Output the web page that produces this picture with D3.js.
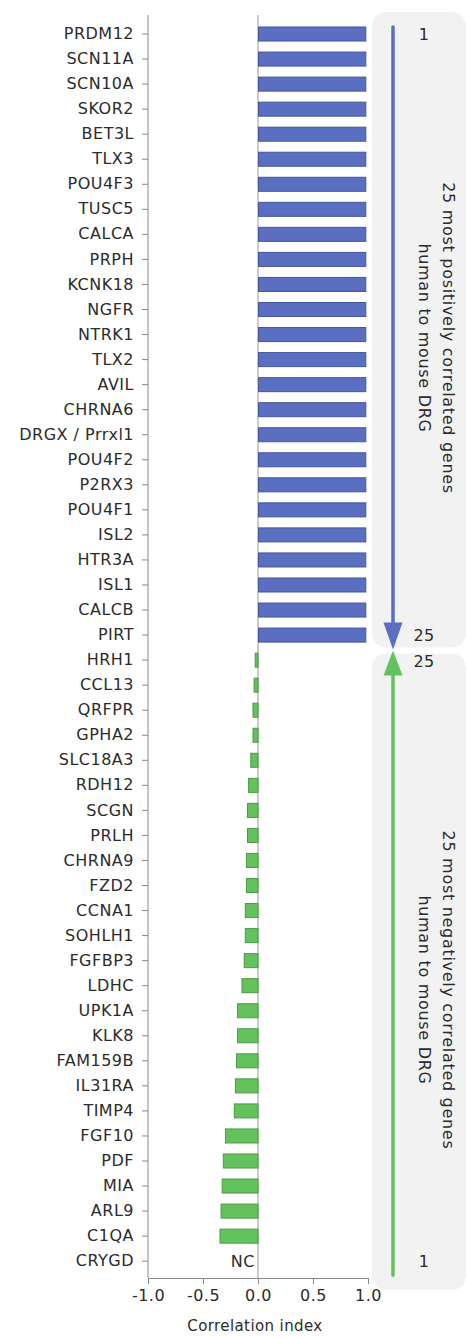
<!DOCTYPE html>
<html>
<head>
<meta charset="utf-8">
<script src="https://cdn.jsdelivr.net/npm/d3@7"></script>
<style>
  html, body { margin: 0; padding: 0; background: #fff; }
  svg { display: block; font-family: "DejaVu Sans", Verdana, sans-serif; }
</style>
</head>
<body>
<svg id="chart" width="466" height="1337"></svg>
<script>
const posGenes = ["PRDM12","SCN11A","SCN10A","SKOR2","BET3L","TLX3","POU4F3","TUSC5","CALCA","PRPH","KCNK18","NGFR","NTRK1","TLX2","AVIL","CHRNA6","DRGX / Prrxl1","POU4F2","P2RX3","POU4F1","ISL2","HTR3A","ISL1","CALCB","PIRT"];
const posValues = [0.98,0.98,0.98,0.98,0.98,0.98,0.98,0.98,0.98,0.98,0.98,0.98,0.98,0.98,0.98,0.98,0.98,0.98,0.98,0.98,0.98,0.98,0.98,0.98,0.98];
const negGenes = ["HRH1","CCL13","QRFPR","GPHA2","SLC18A3","RDH12","SCGN","PRLH","CHRNA9","FZD2","CCNA1","SOHLH1","FGFBP3","LDHC","UPK1A","KLK8","FAM159B","IL31RA","TIMP4","FGF10","PDF","MIA","ARL9","C1QA","CRYGD"];
const negValues = [-0.03,-0.04,-0.05,-0.05,-0.07,-0.09,-0.10,-0.10,-0.11,-0.11,-0.12,-0.12,-0.13,-0.15,-0.19,-0.19,-0.20,-0.21,-0.22,-0.30,-0.32,-0.33,-0.34,-0.35,null];
const xTicks = [-1.0,-0.5,0.0,0.5,1.0];
const posRankLabels = ["1","25"];
const negRankLabels = ["25","1"];
const posTitle = ["25 most positively correlated genes","human to mouse DRG"];
const negTitle = ["25 most negatively correlated genes","human to mouse DRG"];
const xTitle = "Correlation index";

const rows = posGenes.map((g,i)=>({gene:g, value:posValues[i], group:"pos"}))
  .concat(negGenes.map((g,i)=>({gene:g, value:negValues[i], group:"neg"})));

const svg = d3.select("#chart");
const fill = {pos:"#5a6fc0", neg:"#64c25c"};
const stroke = {pos:"#44569e", neg:"#4b9a45"};
const txt = "#2b2b2b";

const x = d3.scaleLinear().domain([-1,1]).range([148,368]);
const y = d3.scaleBand().domain(rows.map(d=>d.gene)).range([21.5,1273.7]).paddingInner(0.44).paddingOuter(0.22);
const plotTop = 15, plotBottom = 1278;

// right panels
const posFirst = y(posGenes[0]) + y.bandwidth()/2;
const posLast = y(posGenes[posGenes.length-1]) + y.bandwidth()/2;
const negFirst = y(negGenes[0]) + y.bandwidth()/2;
const negLast = y(negGenes[negGenes.length-1]) + y.bandwidth()/2;
const mid = (posLast + negFirst)/2 + 2;

svg.append("rect").attr("x",372).attr("y",12).attr("width",94).attr("height",mid-14).attr("rx",14).attr("fill","#f2f2f2");
svg.append("rect").attr("x",372).attr("y",mid+4).attr("width",94).attr("height",1290-(mid+4)).attr("rx",14).attr("fill","#f2f2f2");

const ax = 393;
svg.append("line").attr("x1",ax).attr("x2",ax).attr("y1",posFirst-7).attr("y2",mid-26).attr("stroke",fill.pos).attr("stroke-width",3.5).attr("stroke-linecap","round");
svg.append("path").attr("d",`M${ax-9.5},${mid-27} L${ax+9.5},${mid-27} L${ax},${mid} Z`).attr("fill",fill.pos);
svg.append("line").attr("x1",ax).attr("x2",ax).attr("y1",mid+26).attr("y2",negLast+14).attr("stroke",fill.neg).attr("stroke-width",3.5).attr("stroke-linecap","round");
svg.append("path").attr("d",`M${ax-9.5},${mid+26} L${ax+9.5},${mid+26} L${ax},${mid+1} Z`).attr("fill",fill.neg);

const rankStyle = s => s.attr("x",424).attr("text-anchor","middle").attr("dominant-baseline","central").attr("font-size",16).attr("letter-spacing",0.3).attr("fill",txt);
svg.append("text").call(rankStyle).attr("y",posFirst).text(posRankLabels[0]);
svg.append("text").call(rankStyle).attr("y",posLast).text(posRankLabels[1]);
svg.append("text").call(rankStyle).attr("y",negFirst+1).text(negRankLabels[0]);
svg.append("text").call(rankStyle).attr("y",negLast).text(negRankLabels[1]);

function vtitle(lines, cy){
  const g = svg.append("g").attr("transform",`translate(437,${cy}) rotate(90)`);
  g.selectAll("text").data(lines).join("text")
    .attr("x",0).attr("y",(d,i)=> i===0 ? -11 : 13)
    .attr("text-anchor","middle").attr("dominant-baseline","central")
    .attr("font-size",16).attr("letter-spacing",0.7).attr("fill",txt).text(d=>d);
}
vtitle(posTitle, 338);
vtitle(negTitle, 990);

// zero line
svg.append("line").attr("x1",x(0)).attr("x2",x(0)).attr("y1",plotTop).attr("y2",plotBottom).attr("stroke","#999").attr("stroke-width",1);

// bars
svg.append("g").selectAll("rect").data(rows.filter(d=>d.value!=null)).join("rect")
  .attr("x",d=>x(Math.min(0,d.value))+0.5)
  .attr("y",d=>y(d.gene))
  .attr("width",d=>Math.abs(x(d.value)-x(0))-0.5)
  .attr("height",y.bandwidth())
  .attr("fill",d=>fill[d.group]).attr("stroke",d=>stroke[d.group]).attr("stroke-width",1);

// NC
rows.filter(d=>d.value==null).forEach(d=>{
  svg.append("text").attr("x",x(0)-3).attr("y",y(d.gene)+y.bandwidth()/2).attr("text-anchor","end")
    .attr("dominant-baseline","central").attr("font-size",16).attr("letter-spacing",0.5).attr("fill",txt).text("NC");
});

// left axis
const yAxis = svg.append("g").attr("transform","translate(148,0)")
  .call(d3.axisLeft(y).tickSize(6).tickPadding(8));
yAxis.select(".domain").remove();
yAxis.selectAll(".tick line").attr("stroke","#888");
yAxis.selectAll(".tick text").attr("font-size",16).attr("letter-spacing",0.5).attr("fill",txt).attr("font-family","DejaVu Sans, sans-serif");
svg.append("line").attr("x1",148).attr("x2",148).attr("y1",plotTop).attr("y2",plotBottom).attr("stroke","#888");

// bottom axis
const xAxis = svg.append("g").attr("transform",`translate(0,${plotBottom})`)
  .call(d3.axisBottom(x).tickValues(xTicks).tickFormat(d=>d.toFixed(1)).tickSize(6).tickSizeOuter(0).tickPadding(6));
xAxis.select(".domain").attr("stroke","#888");
xAxis.selectAll(".tick line").attr("stroke","#888");
xAxis.selectAll(".tick text").attr("font-size",16).attr("letter-spacing",0.5).attr("fill",txt).attr("font-family","DejaVu Sans, sans-serif");

svg.append("text").attr("x",x(0)-3).attr("y",1326).attr("text-anchor","middle").attr("dominant-baseline","central")
  .attr("font-size",15).attr("letter-spacing",0.4).attr("fill",txt).text(xTitle);
</script>
</body>
</html>
